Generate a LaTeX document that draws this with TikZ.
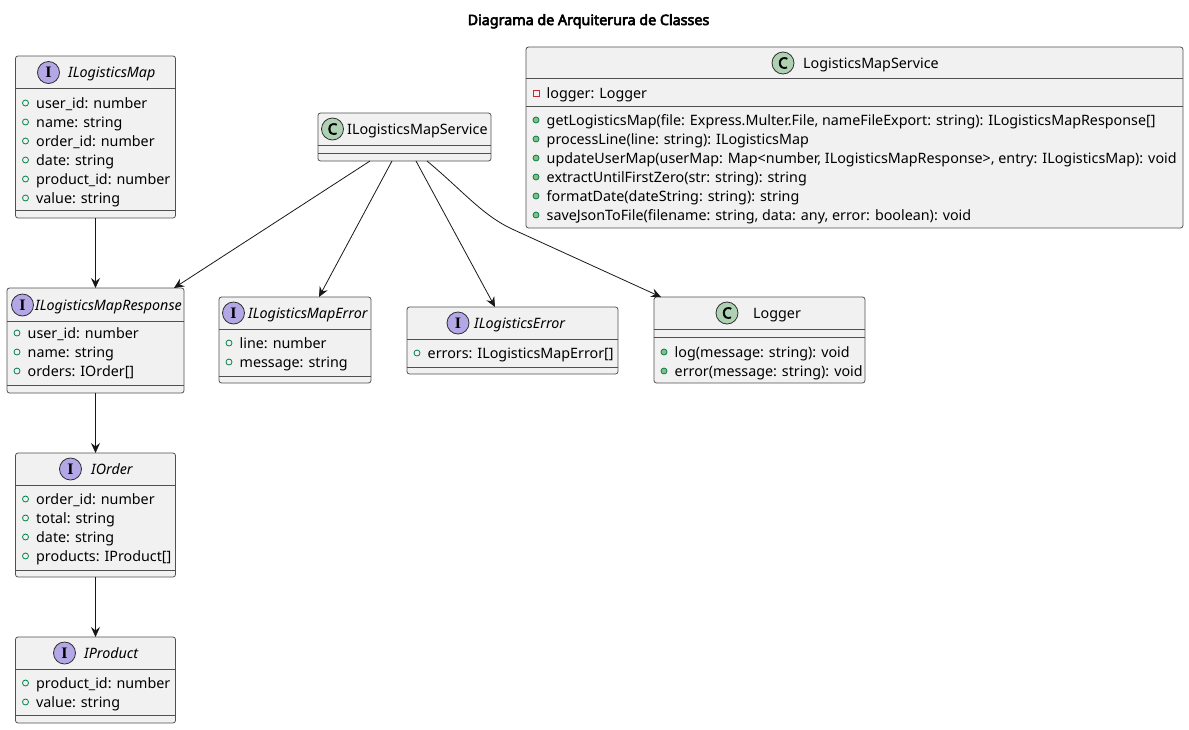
\documentclass[tikz,border=0pt]{standalone}
\usepackage{fontspec}
\setmainfont{Noto Sans}[AutoFakeBold=4]
\newfontfamily\iconserif{Liberation Serif}
\usetikzlibrary{arrows.meta,calc}
\definecolor{boxfill}{HTML}{F1F1F1}
\definecolor{boxline}{HTML}{505050}
\definecolor{arrline}{HTML}{181818}
\definecolor{ifill}{HTML}{B4A7E5}
\definecolor{cfill}{HTML}{ADD1B2}
\definecolor{iconline}{HTML}{303030}
\definecolor{pubgreen}{HTML}{038048}
\definecolor{methgreen}{HTML}{84BE84}
\definecolor{privred}{HTML}{C82930}
\newcommand\mbr[5]{%
  \node[#4] (#1-k) at (#2+10,#3) {};
  \node[mem] (#1) at (#2+20.5,#3+5) {#5};
}
\begin{document}
\begin{tikzpicture}[x=1pt,y=-1pt,
  umlbox/.style={rectangle, draw=boxline, fill=boxfill, line width=0.8pt, rounded corners=2.5pt, inner sep=0pt, outer sep=0pt},
  sepline/.style={draw=boxline, line width=0.8pt},
  mem/.style={anchor=base west, inner sep=0pt, font=\fontsize{14.3}{16}\selectfont},
  ttl/.style={anchor=base west, inner sep=0pt, font=\fontsize{14.3}{16}\selectfont},
  ittl/.style={anchor=base west, inner sep=0pt, font=\fontsize{14.3}{16}\selectfont\itshape},
  iicon/.style={circle, draw=iconline, fill=ifill, line width=0.8pt, minimum size=22pt, inner sep=0pt, font=\iconserif\bfseries\fontsize{16}{16}\selectfont},
  cicon/.style={circle, draw=iconline, fill=cfill, line width=0.8pt, minimum size=22pt, inner sep=0pt, font=\bfseries\fontsize{15}{15}\selectfont},
  pubfield/.style={circle, draw=pubgreen, line width=0.8pt, minimum size=6pt, inner sep=0pt},
  pubmeth/.style={circle, draw=pubgreen, fill=methgreen, line width=0.8pt, minimum size=6pt, inner sep=0pt},
  privfield/.style={rectangle, draw=privred, line width=0.8pt, minimum size=6pt, inner sep=0pt},
  arr/.style={draw=arrline, line width=0.8pt, -{Stealth[length=10pt,width=9pt,inset=3.5pt]}}
]
\useasboundingbox (0,0) rectangle (1189,729);

\node[anchor=base, inner sep=0pt, font=\bfseries\fontsize{14.3}{16}\selectfont] (title) at (588.5,25) {Diagrama de Arquiterura de Classes};

% ILogisticsMap
\node[umlbox, minimum width=160pt, minimum height=162pt] (map) at (95.5,137) {};
\draw[sepline] (15.5,88) -- (175.5,88);
\draw[sepline] (15.5,210) -- (175.5,210);
\node[iicon] (map-i) at (48.5,72.5) {I};
\node[ittl] (map-t) at (68,77.5) {ILogisticsMap};
\mbr{map1}{15.5}{103}{pubfield}{user\_id: number}
\mbr{map2}{15.5}{122}{pubfield}{name: string}
\mbr{map3}{15.5}{141}{pubfield}{order\_id: number}
\mbr{map4}{15.5}{160}{pubfield}{date: string}
\mbr{map5}{15.5}{179}{pubfield}{product\_id: number}
\mbr{map6}{15.5}{198}{pubfield}{value: string}

% ILogisticsMapResponse
\node[umlbox, minimum width=177pt, minimum height=105pt] (resp) at (95.5,340.5) {};
\draw[sepline] (7,321) -- (184,321);
\draw[sepline] (7,385) -- (184,385);
\node[iicon] (resp-i) at (22.5,305) {I};
\node[ittl] (resp-t) at (35,310) {ILogisticsMapResponse};
\mbr{resp1}{7}{333}{pubfield}{user\_id: number}
\mbr{resp2}{7}{352}{pubfield}{name: string}
\mbr{resp3}{7}{371}{pubfield}{orders: IOrder[]}

% IOrder
\node[umlbox, minimum width=160pt, minimum height=124pt] (order) at (95.5,515) {};
\draw[sepline] (15.5,485) -- (175.5,485);
\draw[sepline] (15.5,570) -- (175.5,570);
\node[iicon] (order-i) at (70.5,469) {I};
\node[ittl] (order-t) at (91,474) {IOrder};
\mbr{ord1}{15.5}{499}{pubfield}{order\_id: number}
\mbr{ord2}{15.5}{518}{pubfield}{total: string}
\mbr{ord3}{15.5}{537}{pubfield}{date: string}
\mbr{ord4}{15.5}{556}{pubfield}{products: IProduct[]}

% IProduct
\node[umlbox, minimum width=160pt, minimum height=86pt] (prod) at (95.5,680) {};
\draw[sepline] (15.5,669) -- (175.5,669);
\draw[sepline] (15.5,715) -- (175.5,715);
\node[iicon] (prod-i) at (64.5,653) {I};
\node[ittl] (prod-t) at (84,658) {IProduct};
\mbr{prod1}{15.5}{683}{pubfield}{product\_id: number}
\mbr{prod2}{15.5}{702}{pubfield}{value: string}

% ILogisticsMapService
\node[umlbox, minimum width=173pt, minimum height=48pt] (svc) at (404.5,137) {};
\draw[sepline] (318,145) -- (491,145);
\draw[sepline] (318,153) -- (491,153);
\node[cicon] (svc-i) at (332.5,129) {C};
\node[ttl] (svc-t) at (347,134) {ILogisticsMapService};

% ILogisticsMapError
\node[umlbox, minimum width=152pt, minimum height=86pt] (merr) at (295,340) {};
\draw[sepline] (219,329) -- (371,329);
\draw[sepline] (219,376) -- (371,376);
\node[iicon] (merr-i) at (233.5,313) {I};
\node[ittl] (merr-t) at (248,318) {ILogisticsMapError};
\mbr{merr1}{219}{343}{pubfield}{line: number}
\mbr{merr2}{219}{362}{pubfield}{message: string}

% ILogisticsError
\node[umlbox, minimum width=211pt, minimum height=67pt] (lerr) at (512.5,340.5) {};
\draw[sepline] (407,339) -- (618,339);
\draw[sepline] (407,367) -- (618,367);
\node[iicon] (lerr-i) at (458,323) {I};
\node[ittl] (lerr-t) at (474,328) {ILogisticsError};
\mbr{lerr1}{407}{353}{pubfield}{errors: ILogisticsMapError[]}

% Logger
\node[umlbox, minimum width=211pt, minimum height=86pt] (logger) at (759.5,340) {};
\draw[sepline] (654,329) -- (865,329);
\draw[sepline] (654,337) -- (865,337);
\node[cicon] (logger-i) at (727,313) {C};
\node[ttl] (logger-t) at (753,318) {Logger};
\mbr{log1}{654}{352}{pubmeth}{log(message: string): void}
\mbr{log2}{654}{371}{pubmeth}{error(message: string): void}

% LogisticsMapService
\node[umlbox, minimum width=657pt, minimum height=181pt] (lms) at (854.5,137.5) {};
\draw[sepline] (526,78) -- (1183,78);
\draw[sepline] (526,106) -- (1183,106);
\node[cicon] (lms-i) at (783,63) {C};
\node[ttl] (lms-t) at (803,68) {LogisticsMapService};
\mbr{lms0}{526}{93}{privfield}{logger: Logger}
\mbr{lms1}{526}{120}{pubmeth}{getLogisticsMap(file: Express.Multer.File, nameFileExport: string): ILogisticsMapResponse[]}
\mbr{lms2}{526}{139}{pubmeth}{processLine(line: string): ILogisticsMap}
\mbr{lms3}{526}{158}{pubmeth}{updateUserMap(userMap: Map<number, ILogisticsMapResponse>, entry: ILogisticsMap): void}
\mbr{lms4}{526}{177}{pubmeth}{extractUntilFirstZero(str: string): string}
\mbr{lms5}{526}{196}{pubmeth}{formatDate(dateString: string): string}
\mbr{lms6}{526}{215}{pubmeth}{saveJsonToFile(filename: string, data: any, error: boolean): void}

% connectors
\draw[arr] (map.south) -- (resp.north);
\draw[arr] (resp.south) -- (order.north);
\draw[arr] (order.south) -- (prod.north);
\draw[arr] ($(svc.south west)+(52,0)$) -- ($(resp.north west)+(167,0)$);
\draw[arr] ($(svc.south west)+(74,0)$) -- ($(merr.north west)+(100,0)$);
\draw[arr] ($(svc.south west)+(98,0)$) -- ($(lerr.north west)+(88,0)$);
\coordinate (bend) at (512,229);
\draw[arr] ($(svc.south west)+(109,0)$) .. controls (462,190) and (482,215) .. (bend) -- ($(logger.north west)+(7,0)$);
\end{tikzpicture}
\end{document}
